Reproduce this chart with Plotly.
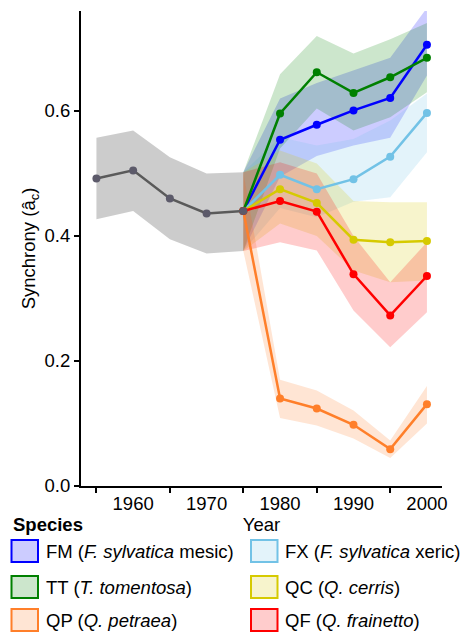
import plotly.graph_objects as go

# ---------------- data ----------------
years_pre = [1955, 1960, 1965, 1970, 1975]
pre_mean = [0.492, 0.505, 0.460, 0.436, 0.440]
pre_upper = [0.557, 0.569, 0.526, 0.500, 0.502]
pre_lower = [0.427, 0.440, 0.395, 0.372, 0.376]

years_post = [1975, 1980, 1985, 1990, 1995, 2000]

fm_mean = [0.440, 0.554, 0.578, 0.601, 0.621, 0.706]
fm_upper = [0.502, 0.620, 0.645, 0.665, 0.685, 0.765]
fm_lower = [0.376, 0.495, 0.528, 0.545, 0.557, 0.657]

fx_mean = [0.440, 0.498, 0.475, 0.491, 0.527, 0.597]
fx_upper = [0.502, 0.558, 0.545, 0.555, 0.585, 0.628]
fx_lower = [0.376, 0.445, 0.430, 0.455, 0.462, 0.534]

tt_mean = [0.440, 0.596, 0.662, 0.629, 0.654, 0.685]
tt_upper = [0.502, 0.659, 0.720, 0.692, 0.715, 0.741]
tt_lower = [0.376, 0.540, 0.604, 0.569, 0.590, 0.630]

qc_mean = [0.440, 0.475, 0.453, 0.394, 0.390, 0.392]
qc_upper = [0.502, 0.537, 0.516, 0.456, 0.454, 0.454]
qc_lower = [0.376, 0.420, 0.400, 0.345, 0.326, 0.329]

qp_mean = [0.440, 0.140, 0.124, 0.098, 0.059, 0.131]
qp_upper = [0.502, 0.170, 0.153, 0.121, 0.073, 0.160]
qp_lower = [0.376, 0.109, 0.097, 0.076, 0.045, 0.100]

qf_mean = [0.440, 0.456, 0.439, 0.339, 0.273, 0.336]
qf_upper = [0.502, 0.518, 0.500, 0.400, 0.326, 0.390]
qf_lower = [0.376, 0.390, 0.377, 0.281, 0.222, 0.278]

x_tick_vals = [1960, 1970, 1980, 1990, 2000]
x_minor_vals = [1955, 1965, 1975, 1985, 1995]
y_tick_vals = [0.0, 0.2, 0.4, 0.6]
y_tick_text = ["0.0", "0.2", "0.4", "0.6"]

species = [
    # key, label, line colour, rgb for band, mean, upper, lower
    ("FM", "FM (<i>F. sylvatica</i> mesic)", "#0000FF", (0, 0, 255), fm_mean, fm_upper, fm_lower),
    ("FX", "FX (<i>F. sylvatica</i> xeric)", "#72C2E6", (114, 194, 230), fx_mean, fx_upper, fx_lower),
    ("TT", "TT (<i>T. tomentosa</i>)", "#008000", (0, 128, 0), tt_mean, tt_upper, tt_lower),
    ("QC", "QC (<i>Q. cerris</i>)", "#D6CA00", (214, 202, 0), qc_mean, qc_upper, qc_lower),
    ("QP", "QP (<i>Q. petraea</i>)", "#FF7F2A", (255, 127, 42), qp_mean, qp_upper, qp_lower),
    ("QF", "QF (<i>Q. frainetto</i>)", "#FF0000", (255, 0, 0), qf_mean, qf_upper, qf_lower),
]

FONT = "Liberation Sans, Arial, Helvetica, sans-serif"
FS = 18.5
W, H = 467, 633
ML, MR, MT, MB = 81, 25, 11, 147

fig = go.Figure()

# gray band (pre-period)
fig.add_trace(go.Scatter(
    x=years_pre + years_pre[::-1], y=pre_upper + pre_lower[::-1],
    fill="toself", fillcolor="rgba(0,0,0,0.2)", line=dict(width=0),
    mode="lines", hoverinfo="skip", showlegend=False))

# species bands
for key, label, col, rgb, m, up, lo in species:
    fig.add_trace(go.Scatter(
        x=years_post + years_post[::-1], y=up + lo[::-1],
        fill="toself", fillcolor="rgba(%d,%d,%d,0.2)" % rgb, line=dict(width=0),
        mode="lines", hoverinfo="skip", showlegend=False))

# species lines
for key, label, col, rgb, m, up, lo in species:
    fig.add_trace(go.Scatter(
        x=years_post, y=m, mode="lines+markers",
        line=dict(color=col, width=2.5), marker=dict(color=col, size=8),
        name=key, showlegend=False))

# gray line on top
fig.add_trace(go.Scatter(
    x=years_pre, y=pre_mean, mode="lines+markers",
    line=dict(color="#5A5A5A", width=2.5), marker=dict(color="#5C5A6A", size=8),
    showlegend=False))

# ---------------- manual legend (paper coords from pixels) ----------------
pw = W - ML - MR
ph = H - MT - MB

def px(xp):
    return (xp - ML) / pw

def py(yp):
    return (H - MB - yp) / ph

annotations = [dict(
    text="<b>Species</b>", x=px(11), y=py(524), xref="paper", yref="paper",
    xanchor="left", yanchor="middle", showarrow=False,
    font=dict(family=FONT, size=FS, color="black"))]
shapes = []
col_x = [11.5, 251]
row_y = [551, 587, 620]
for i, (key, label, col, rgb, m, up, lo) in enumerate(species):
    cx = col_x[i % 2]
    cy = row_y[i // 2]
    shapes.append(dict(
        type="rect", xref="paper", yref="paper",
        x0=px(cx), x1=px(cx + 26.5), y0=py(cy - 11), y1=py(cy + 11),
        line=dict(color=col, width=2), fillcolor="rgba(%d,%d,%d,0.2)" % rgb,
        layer="above"))
    annotations.append(dict(
        text=label, x=px(cx + 32), y=py(cy), xref="paper", yref="paper",
        xanchor="left", yanchor="middle", showarrow=False,
        font=dict(family=FONT, size=FS, color="black")))

fig.update_layout(
    width=W, height=H, autosize=False,
    margin=dict(l=ML, r=MR, t=MT, b=MB, pad=0),
    paper_bgcolor="white", plot_bgcolor="white",
    font=dict(family=FONT, size=FS, color="black"),
    showlegend=False,
    annotations=annotations, shapes=shapes,
    xaxis=dict(
        range=[1952.9, 2002.05], tickmode="array", tickvals=x_tick_vals,
        ticks="", showgrid=False, zeroline=False,
        showline=True, linecolor="black", linewidth=2,
        tickfont=dict(family=FONT, size=FS, color="black"),
        minor=dict(tickmode="array", tickvals=x_minor_vals, ticks="outside",
                   ticklen=5, tickwidth=2, tickcolor="black", showgrid=False),
        title=dict(text="Year", standoff=0,
                   font=dict(family=FONT, size=FS, color="black")),
        automargin=False, fixedrange=True),
    yaxis=dict(
        range=[0, 0.76], tickmode="array", tickvals=y_tick_vals, ticktext=y_tick_text,
        ticks="outside", ticklen=5, tickwidth=2, tickcolor="black",
        showgrid=False, zeroline=False,
        showline=True, linecolor="black", linewidth=2,
        tickfont=dict(family=FONT, size=FS, color="black"),
        title=dict(text="Synchrony (â<sub>c</sub>)", standoff=4,
                   font=dict(family=FONT, size=FS, color="black")),
        automargin=False, fixedrange=True),
)

fig.write_html("out.html")
